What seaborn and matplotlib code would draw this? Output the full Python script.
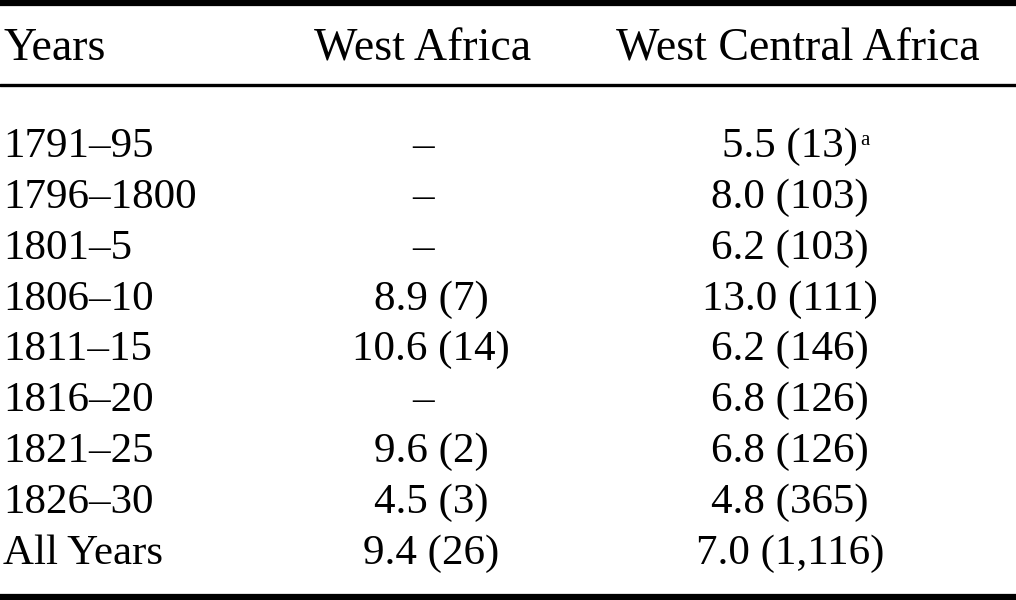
import matplotlib
matplotlib.use("Agg")
import seaborn as sns
import matplotlib.pyplot as plt

# table content
headers = ["Years", "West Africa", "West Central Africa"]
years = ["1791–95", "1796–1800", "1801–5", "1806–10", "1811–15",
         "1816–20", "1821–25", "1826–30", "All Years"]
west_africa = ["–", "–", "–", "8.9 (7)", "10.6 (14)", "–", "9.6 (2)", "4.5 (3)", "9.4 (26)"]
west_central = ["5.5 (13)", "8.0 (103)", "6.2 (103)", "13.0 (111)", "6.2 (146)",
                "6.8 (126)", "6.8 (126)", "4.8 (365)", "7.0 (1,116)"]
notes = ["a", "", "", "", "", "", "", "", ""]

sns.set_theme(style="white")
plt.rcParams['font.family'] = ['Liberation Serif', 'DejaVu Serif']

fig = plt.figure(figsize=(10.16, 6.0), dpi=100)
ax = fig.add_axes([0, 0, 1, 1])
ax.set_xlim(0, 1016)
ax.set_ylim(600, 0)
ax.axis("off")

# rules
ax.axhline(2.5, color="black", lw=4.5)
ax.axhline(84.5, color="black", lw=2.4)
ax.axhline(597, color="black", lw=4.5)

col_x = [3, 423, 798]
col_ha = ["left", "center", "center"]
hdr_y = 49
fs_head = 33
fs_body = 31

for x, ha, h in zip(col_x, col_ha, headers):
    ax.text(x, hdr_y, h, ha=ha, va="center", fontsize=fs_head, color="black")

row_y0 = 147
row_step = 50.8
fig.canvas.draw()
renderer = fig.canvas.get_renderer()
for i, (yr, wa, wc, nt) in enumerate(zip(years, west_africa, west_central, notes)):
    y = row_y0 + i * row_step
    ax.text(col_x[0], y, yr, ha="left", va="center", fontsize=fs_body, color="black")
    wa_x = col_x[1] if wa == "–" else col_x[1] + 8
    ax.text(wa_x, y, wa, ha="center", va="center", fontsize=fs_body, color="black")
    t = ax.text(col_x[2] - 8, y, wc, ha="center", va="center", fontsize=fs_body, color="black")
    if nt:
        bb = t.get_window_extent(renderer=renderer)
        xd, yd = ax.transData.inverted().transform((bb.x1, bb.y1))
        ax.text(xd + 2, yd + 3, nt, ha="left", va="top", fontsize=15, color="black")

fig.savefig("out.png", dpi=100)
